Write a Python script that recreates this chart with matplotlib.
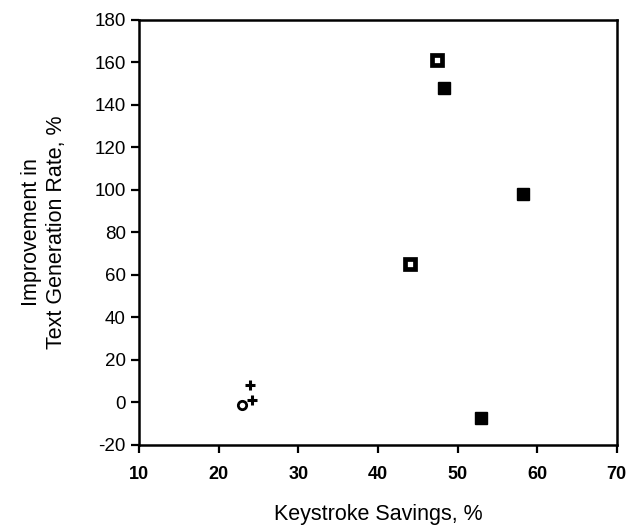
import numpy as np
import matplotlib.pyplot as plt

plt.rcParams['font.family'] = ['Liberation Sans', 'DejaVu Sans']
plt.rcParams['axes.unicode_minus'] = False

# Open squares
open_x = [47.4, 44.0]
open_y = [161, 65]
# Filled squares
filled_x = [48.3, 58.2, 53.0]
filled_y = [148, 98, -7.5]
# Plus symbols
plus_x = [24.0, 24.2]
plus_y = [8, 1]
# Open circle
circ_x = [23.0]
circ_y = [-1]

fig = plt.figure(figsize=(6.3, 5.29), dpi=100)
ax = fig.add_axes([0.2206, 0.1588, 0.7584, 0.8034])

ax.plot(open_x, open_y, 's', ms=7, mfc='white', mec='black', mew=3.4, ls='none')
ax.plot(filled_x, filled_y, 's', ms=8, color='black', ls='none')
ax.plot(plus_x, plus_y, '+', ms=7, color='black', mew=2.2, ls='none')
ax.plot(circ_x, circ_y, 'o', ms=6, mfc='white', mec='black', mew=2.0, ls='none')

ax.set_xlim(10, 70)
ax.set_ylim(-20, 180)
ax.set_xticks(np.arange(10, 71, 10))
ax.set_yticks(np.arange(-20, 181, 20))

for s in ax.spines.values():
    s.set_linewidth(1.8)
ax.tick_params(direction='out', length=6, width=1.6, labelsize=13.5)
ax.tick_params(axis='x', pad=9, labelsize=13)
for lab in ax.get_xticklabels():
    lab.set_fontweight('bold')

ax.set_xlabel('Keystroke Savings, %', fontsize=15.5, labelpad=15)
ax.set_ylabel('Improvement in\nText Generation Rate, %', fontsize=15.5, labelpad=20)

fig.savefig('out.png', dpi=100)
